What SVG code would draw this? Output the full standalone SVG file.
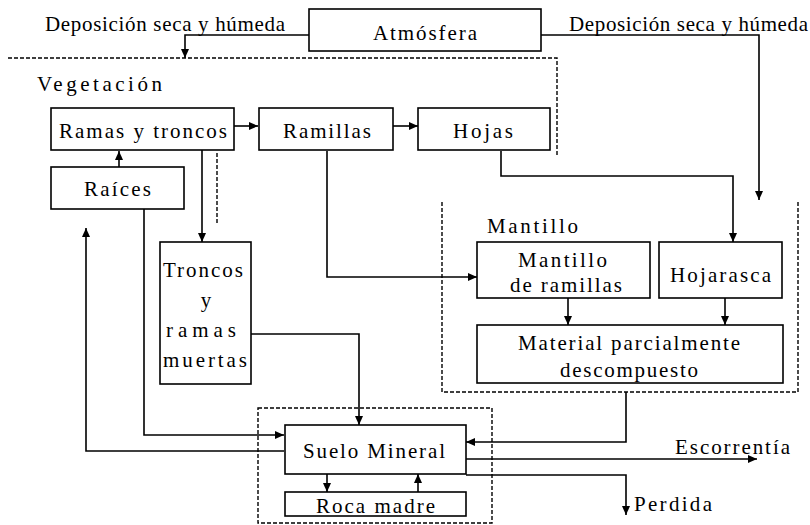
<svg xmlns="http://www.w3.org/2000/svg" width="810" height="525" viewBox="0 0 810 525" font-family="Liberation Serif, serif" font-size="21">
<style>
  .box { fill: #fff; stroke: #000; stroke-width: 1.6; }
  .t { fill: #000; }
  .c { fill: none; stroke: #000; stroke-width: 1.6; marker-end: url(#ah); }
  .d { fill: none; stroke: #000; stroke-width: 1.4; stroke-dasharray: 4 2; }
</style>
<defs>
  <marker id="ah" markerUnits="userSpaceOnUse" markerWidth="9" markerHeight="8" refX="9" refY="4" orient="auto">
    <path d="M0,0 L9,4 L0,8 z" fill="#000"/>
  </marker>
</defs>
<rect width="810" height="525" fill="#fff"/>

<g id="containers">
  <path class="d" d="M8,58 H557 V157"/>
  <path class="d" d="M442,202 V392 H798 V202"/>
  <rect class="d" x="258" y="408" width="234" height="115"/>
  <text class="t" x="37" y="91" textLength="125" lengthAdjust="spacing">Vegetación</text>
  <text class="t" x="487" y="233" textLength="91" lengthAdjust="spacing">Mantillo</text>
</g>

<g id="connectors">
  <path class="c" d="M309,35 H185 V58"/>
  <path class="c" d="M541,35 H759 V200"/>
  <path class="c" d="M234,126 H258"/>
  <path class="c" d="M393,126 H418"/>
  <path class="c" d="M119,167 V151"/>
  <path class="c" d="M202,150 V242"/>
  <path class="d" d="M217,153 V224"/>
  <path class="c" d="M327,151 V277 H477"/>
  <path class="c" d="M501,151 V176 H733 V242"/>
  <path class="c" d="M568,298 V325"/>
  <path class="c" d="M725,298 V325"/>
  <path class="c" d="M626,392 V442 H466"/>
  <path class="c" d="M251,334 H359 V425"/>
  <path class="c" d="M144,209 V435 H284"/>
  <path class="c" d="M284,451 H86 V228"/>
  <path class="c" d="M327,474 V492"/>
  <path class="c" d="M418,492 V474"/>
  <path class="c" d="M466,459 H757"/>
  <path class="c" d="M466,475 H626 V515"/>
</g>

<g id="labels">
  <text class="t" x="45" y="31" textLength="240" lengthAdjust="spacing">Deposición seca y húmeda</text>
  <text class="t" x="569" y="31" textLength="239" lengthAdjust="spacing">Deposición seca y húmeda</text>
  <text class="t" x="675" y="454" textLength="115" lengthAdjust="spacing">Escorrentía</text>
  <text class="t" x="634" y="511" textLength="78" lengthAdjust="spacing">Perdida</text>
</g>

<g id="atmosfera">
  <rect class="box" x="309" y="9" width="232" height="42"/>
  <text class="t" x="373" y="40" textLength="104" lengthAdjust="spacing">Atmósfera</text>
</g>
<g id="ramas-troncos">
  <rect class="box" x="51" y="108" width="183" height="42"/>
  <text class="t" x="59" y="138" textLength="168" lengthAdjust="spacing">Ramas y troncos</text>
</g>
<g id="ramillas">
  <rect class="box" x="259" y="108" width="134" height="42"/>
  <text class="t" x="283" y="138" textLength="88" lengthAdjust="spacing">Ramillas</text>
</g>
<g id="hojas">
  <rect class="box" x="418" y="108" width="132" height="42"/>
  <text class="t" x="453" y="138" textLength="60" lengthAdjust="spacing">Hojas</text>
</g>
<g id="raices">
  <rect class="box" x="51" y="167" width="133" height="42"/>
  <text class="t" x="84" y="196" textLength="67" lengthAdjust="spacing">Raíces</text>
</g>
<g id="troncos-muertos">
  <rect class="box" x="160" y="242" width="91" height="142"/>
  <text class="t" x="163" y="277" textLength="80" lengthAdjust="spacing">Troncos</text>
  <text class="t" x="206" y="307" text-anchor="middle">y</text>
  <text class="t" x="166" y="337" textLength="70" lengthAdjust="spacing">ramas</text>
  <text class="t" x="163" y="367" textLength="84" lengthAdjust="spacing">muertas</text>
</g>
<g id="mantillo-ramillas">
  <rect class="box" x="477" y="242" width="173" height="56"/>
  <text class="t" x="518" y="267" textLength="89" lengthAdjust="spacing">Mantillo</text>
  <text class="t" x="510" y="292" textLength="112" lengthAdjust="spacing">de ramillas</text>
</g>
<g id="hojarasca">
  <rect class="box" x="659" y="242" width="123" height="56"/>
  <text class="t" x="670" y="282" textLength="101" lengthAdjust="spacing">Hojarasca</text>
</g>
<g id="material">
  <rect class="box" x="477" y="325" width="306" height="58"/>
  <text class="t" x="518" y="350" textLength="222" lengthAdjust="spacing">Material parcialmente</text>
  <text class="t" x="560" y="377" textLength="138" lengthAdjust="spacing">descompuesto</text>
</g>
<g id="suelo-mineral">
  <rect class="box" x="285" y="425" width="181" height="49"/>
  <text class="t" x="303" y="458" textLength="142" lengthAdjust="spacing">Suelo Mineral</text>
</g>
<g id="roca-madre">
  <rect class="box" x="285" y="492" width="181" height="24"/>
  <text class="t" x="316" y="513" textLength="119" lengthAdjust="spacing">Roca madre</text>
</g>
</svg>
